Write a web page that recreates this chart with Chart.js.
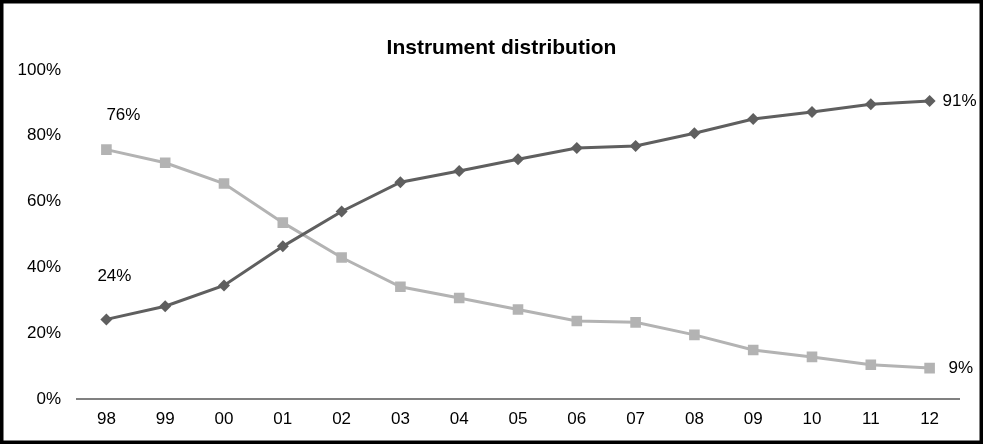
<!DOCTYPE html>
<html>
<head>
<meta charset="utf-8">
<script src="https://cdn.jsdelivr.net/npm/chart.js@4.4.1/dist/chart.umd.min.js"></script>
<style>
  html, body { margin: 0; padding: 0; background: #fff; }
  #wrap { width: 983px; height: 444px; position: relative; }
</style>
</head>
<body>
<div id="wrap"><canvas id="instrumentChart"></canvas></div>
<script>
// Veriler
const years = ['98', '99', '00', '01', '02', '03', '04', '05', '06', '07', '08', '09', '10', '11', '12'];
const risingShare = [24.2, 28.2, 34.5, 46.4, 57.0, 65.9, 69.3, 72.9, 76.3, 76.9, 80.8, 85.1, 87.2, 89.6, 90.6];
const fallingShare = [75.8, 71.8, 65.5, 53.6, 43.0, 34.1, 30.7, 27.2, 23.7, 23.3, 19.5, 14.9, 12.8, 10.4, 9.4];
const yTicks = [0, 20, 40, 60, 80, 100];

const FONT = 'Arial, "Liberation Sans", sans-serif';

// Çerçeve, beyaz arka plan ve başlığın yatay konumu
const framePlugin = {
    id: 'frame',
    afterLayout(chart) {
        // Başlığı referanstaki gibi biraz sağa kaydır
        if (chart.titleBlock) {
            chart.titleBlock.left = 44;
        }
    },
    beforeDraw(chart) {
        const ctx = chart.ctx;
        ctx.save();
        ctx.fillStyle = '#fff';
        ctx.fillRect(0, 0, chart.width, chart.height);
        ctx.restore();
    },
    afterDraw(chart) {
        const ctx = chart.ctx;
        ctx.save();
        ctx.strokeStyle = '#000';
        ctx.lineWidth = 3.5;
        ctx.strokeRect(1.75, 1.75, chart.width - 3.5, chart.height - 3.5);
        ctx.restore();
    }
};

// İlk ve son noktalara etiket yaz
const endLabels = {
    id: 'endLabels',
    afterDatasetsDraw(chart) {
        const ctx = chart.ctx;
        ctx.save();
        ctx.font = '17px ' + FONT;
        ctx.fillStyle = '#000';
        ctx.textBaseline = 'middle';
        chart.data.datasets.forEach((ds, i) => {
            const pts = chart.getDatasetMeta(i).data;
            const first = pts[0];
            const last = pts[pts.length - 1];
            const o = ds.labelOffsets;
            ctx.textAlign = 'center';
            ctx.fillText(Math.round(ds.data[0]) + '%', first.x + o.first[0], first.y + o.first[1]);
            ctx.textAlign = 'left';
            ctx.fillText(Math.round(ds.data[ds.data.length - 1]) + '%', last.x + o.last[0], last.y + o.last[1]);
        });
        ctx.restore();
    }
};

new Chart(document.getElementById('instrumentChart'), {
    type: 'line',
    data: {
        labels: years,
        datasets: [
            {
                label: 'Rising',
                data: risingShare,
                borderColor: '#5f5f5f',
                backgroundColor: '#5f5f5f',
                borderWidth: 3,
                pointStyle: 'rectRot',
                pointRadius: 6,
                pointBorderWidth: 0,
                tension: 0,
                labelOffsets: { first: [8, -43], last: [13, 0] }
            },
            {
                label: 'Falling',
                data: fallingShare,
                borderColor: '#b3b3b3',
                backgroundColor: '#b3b3b3',
                borderWidth: 3,
                pointStyle: 'rect',
                pointRadius: 7.5,
                pointBorderWidth: 0,
                tension: 0,
                labelOffsets: { first: [17, -34], last: [19, 0] }
            }
        ]
    },
    options: {
        responsive: true,
        maintainAspectRatio: false,
        animation: false,
        layout: { padding: { left: 0, right: 24, top: 0, bottom: 0 } },
        plugins: {
            legend: { display: false },
            tooltip: { enabled: false },
            title: {
                display: true,
                text: 'Instrument distribution',
                color: '#000',
                font: { family: FONT, size: 21, weight: 'bold', lineHeight: 1.2 },
                padding: { top: 36, bottom: 8.8 }
            }
        },
        scales: {
            x: {
                offset: true,
                grid: { display: false, drawTicks: false },
                border: { display: true, color: '#808080', width: 2 },
                ticks: { color: '#000', font: { family: FONT, size: 17 }, padding: 10, maxRotation: 0 },
                afterFit(scale) { scale.height = 45; }
            },
            y: {
                min: 0,
                max: 100,
                grid: { display: false, drawTicks: false },
                border: { display: false },
                afterBuildTicks(scale) { scale.ticks = yTicks.map(v => ({ value: v })); },
                ticks: {
                    color: '#000',
                    font: { family: FONT, size: 17 },
                    padding: 16,
                    callback: v => v + '%'
                },
                afterFit(scale) { scale.width = 77; }
            }
        }
    },
    plugins: [framePlugin, endLabels]
});
</script>
</body>
</html>
